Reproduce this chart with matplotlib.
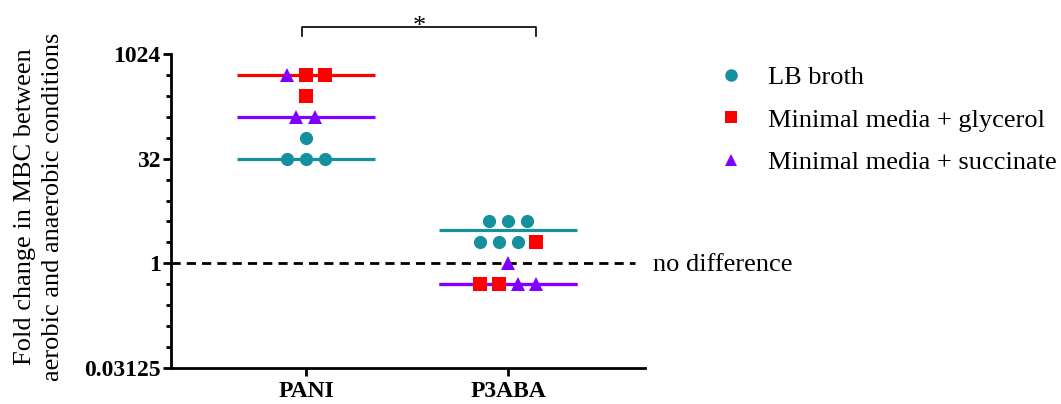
#!/usr/bin/env python3

import numpy as np
import matplotlib
matplotlib.use('Agg')
import matplotlib.pyplot as plt
from matplotlib.lines import Line2D
from matplotlib.ticker import FixedLocator, FixedFormatter, NullFormatter

# data: fold change in MBC (aerobic vs anaerobic)
categories = ['PANI', 'P3ABA']
series_names = ['LB broth', 'Minimal media + glycerol', 'Minimal media + succinate']
lb_broth = {'PANI': [64, 32, 32, 32], 'P3ABA': [4, 4, 4, 2, 2, 2]}
glycerol = {'PANI': [512, 512, 256], 'P3ABA': [2, 0.5, 0.5]}
succinate = {'PANI': [512, 128, 128], 'P3ABA': [1, 0.5, 0.5]}

y_ticks = [0.03125, 1, 32, 1024]
y_ticklabels = ['0.03125', '1', '32', '1024']

# style
colors = ['#15909e', '#ff0000', '#8000ff']
markers = ['o', 's', '^']
# order in which series fill a swarm row, per category
swarm_order = {'PANI': [2, 1, 0], 'P3ABA': [0, 1, 2]}
swarm_step = 0.094
median_half = 0.34

plt.rcParams['font.family'] = ['Liberation Serif', 'DejaVu Serif']


def swarm_positions(cat_idx, cat):
    data = [lb_broth[cat], glycerol[cat], succinate[cat]]
    rows = {}
    for s in swarm_order[cat]:
        for v in data[s]:
            rows.setdefault(v, []).append(s)
    pts = []
    for v, members in rows.items():
        n = len(members)
        offs = (np.arange(n) - (n - 1) / 2.0) * swarm_step
        for s, o in zip(members, offs):
            pts.append((s, cat_idx + o, v))
    return pts


def plot(output_file):
    fig = plt.figure(figsize=(10.61, 4.04), dpi=100)
    ax = fig.add_axes([0.1612, 0.0891, 0.6079 - 0.1612, 0.8663 - 0.0891])

    ax.set_yscale('log', base=2)
    ax.set_ylim(2.0 ** -5, 2.0 ** 10)
    ax.set_xlim(-0.668, 1.678)

    # median lines
    for i, cat in enumerate(categories):
        data = [lb_broth[cat], glycerol[cat], succinate[cat]]
        for s in [1, 2, 0]:
            med = np.median(data[s])
            ax.plot([i - median_half, i + median_half], [med, med],
                    color=colors[s], lw=2.3, solid_capstyle='butt', zorder=2)

    # points
    for i, cat in enumerate(categories):
        for s, x, v in swarm_positions(i, cat):
            ax.plot(x, v, marker=markers[s], color=colors[s], ms=9.5,
                    ls='none', zorder=3, markeredgewidth=0)

    # no difference line
    ax.plot([-0.668, 1.63], [1, 1], color='black', lw=2, ls=(0, (3.3, 2.2)),
            zorder=1, clip_on=False)
    ax.text(1.718, 0.96, 'no difference', fontsize=19, va='center', ha='left')

    # significance bracket
    trans = ax.get_xaxis_transform()
    ax.plot([-0.02, -0.02, 1.14, 1.14], [1.058, 1.086, 1.086, 1.058],
            color='black', lw=1.2, transform=trans, clip_on=False)
    ax.text(0.56, 1.066, '*', transform=trans, ha='center', va='baseline',
            fontsize=19)

    # axes style
    for side in ['top', 'right']:
        ax.spines[side].set_visible(False)
    for side in ['left', 'bottom']:
        ax.spines[side].set_linewidth(2)
    ax.yaxis.set_major_locator(FixedLocator(y_ticks))
    ax.yaxis.set_major_formatter(FixedFormatter(y_ticklabels))
    ax.yaxis.set_minor_locator(FixedLocator(2.0 ** np.arange(-5, 11)))
    ax.yaxis.set_minor_formatter(NullFormatter())
    ax.tick_params(axis='y', which='major', length=6, width=2, labelsize=17,
                   pad=1.5)
    ax.tick_params(axis='y', which='minor', length=3.5, width=2)
    ax.set_xticks(range(len(categories)))
    ax.set_xticklabels(categories)
    ax.tick_params(axis='x', length=6, width=2, labelsize=17, pad=3)
    for lab in ax.get_xticklabels() + ax.get_yticklabels():
        lab.set_fontweight('bold')

    ax.set_ylabel('Fold change in MBC between\naerobic and anaerobic conditions',
                  fontsize=19, linespacing=1.35)
    ax.yaxis.set_label_coords(-0.226, 0.513)

    # legend
    handles = [Line2D([], [], marker=m, color=c, ls='none', ms=9,
                      markeredgewidth=0) for m, c in zip(markers, colors)]
    fig.legend(handles, series_names, loc='upper left',
               bbox_to_anchor=(0.654, 0.896), frameon=False, fontsize=19,
               handlelength=1.0, handletextpad=0.9, labelspacing=0.72)

    plt.savefig(output_file, dpi=100)


def main():
    plot('out.png')


if __name__ == '__main__':
    main()
